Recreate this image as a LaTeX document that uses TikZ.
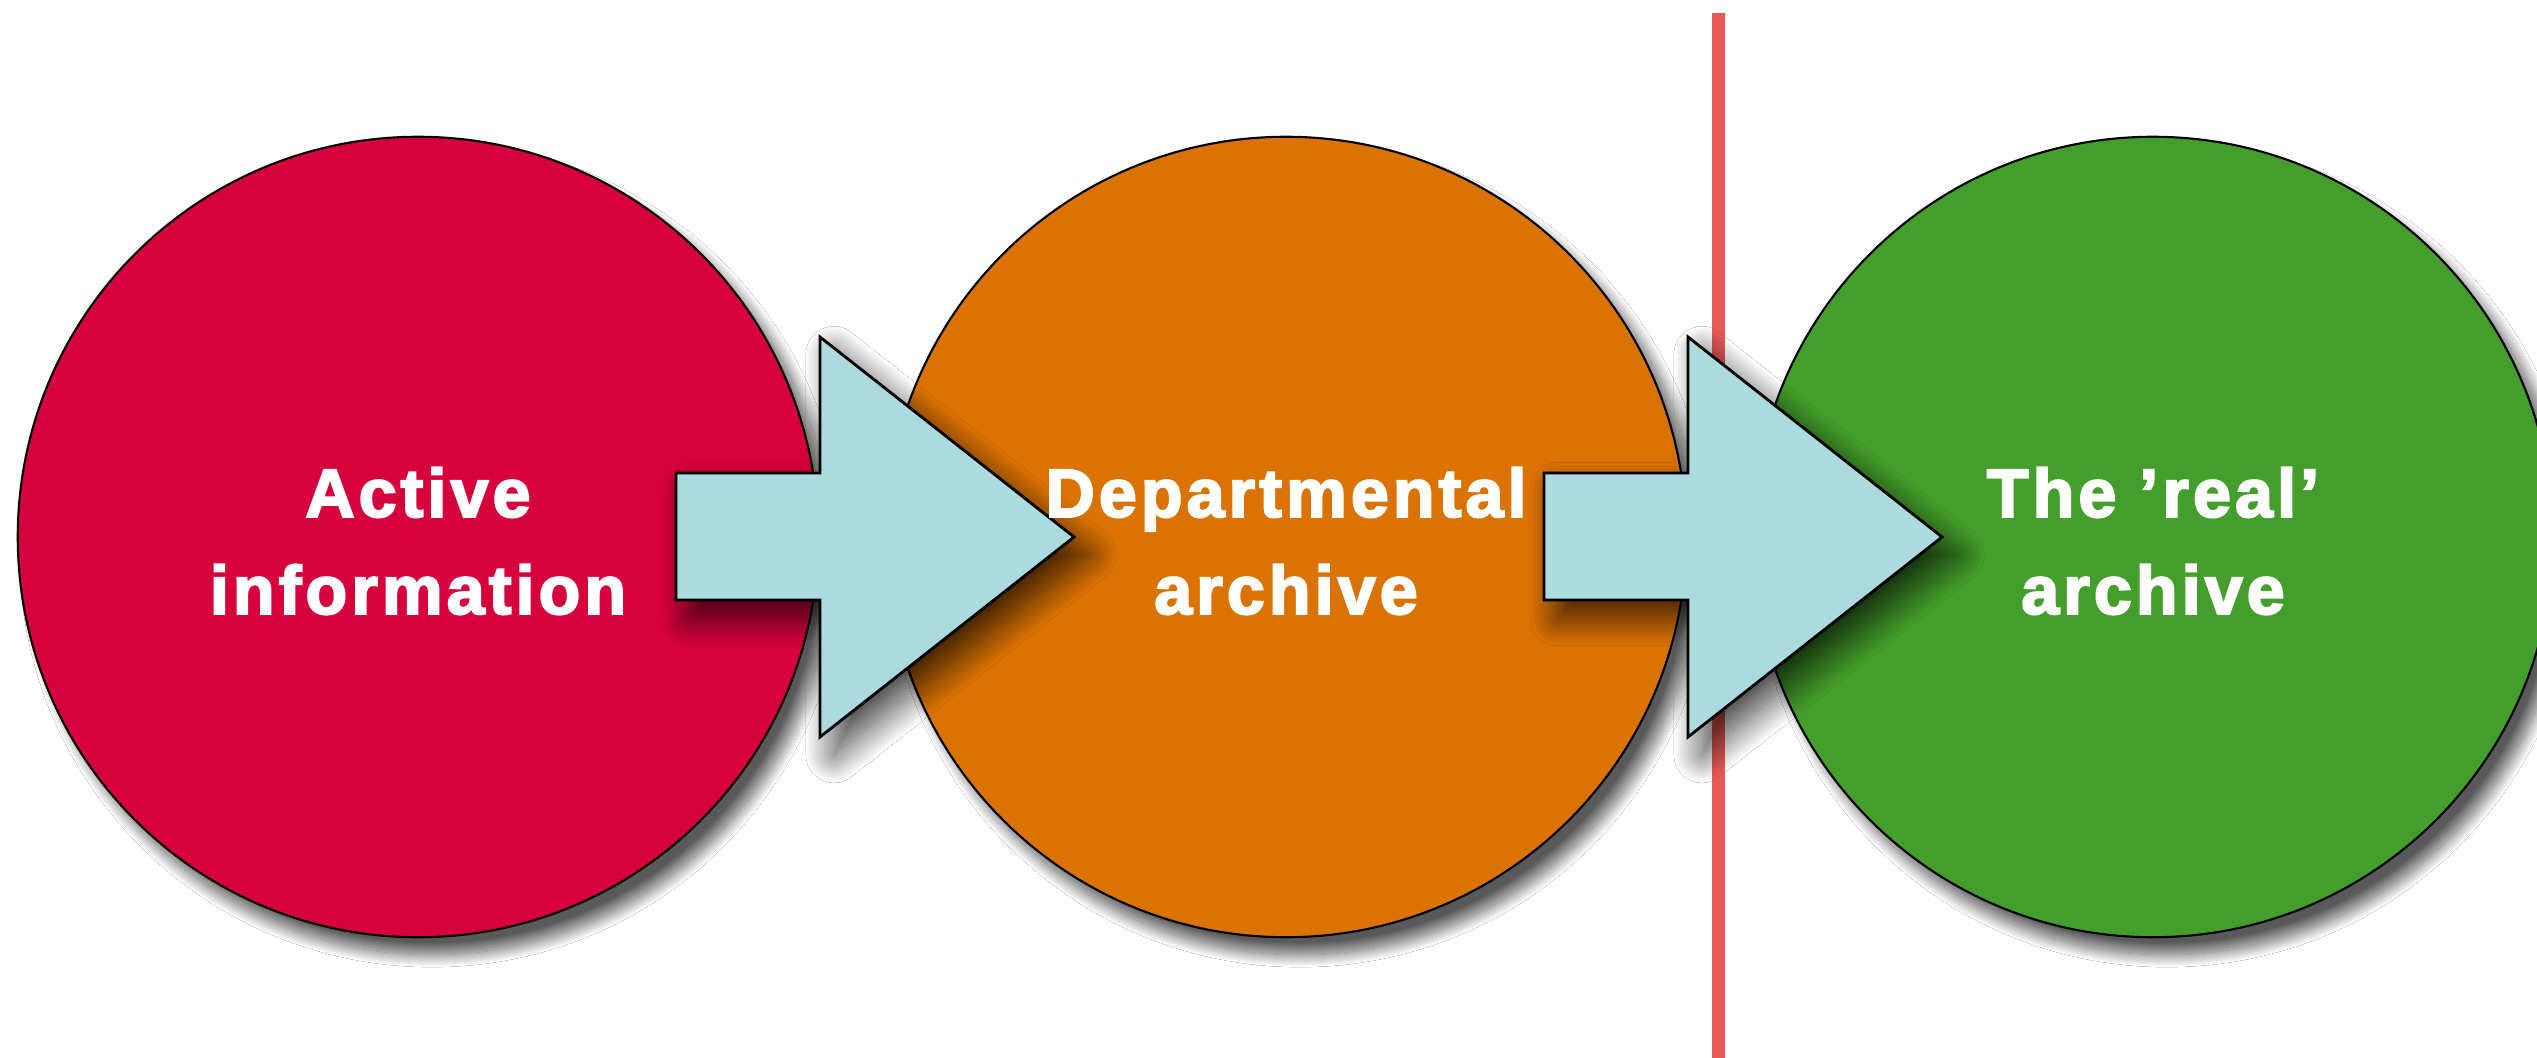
\documentclass[tikz,border=0pt]{standalone}
\usepackage{fontspec}
\newfontfamily\labelfont{Liberation Sans Bold}[FakeBold=3, LetterSpace=6]
\usetikzlibrary{shadows.blur}
\definecolor{cred}{RGB}{213,0,60}
\definecolor{corange}{RGB}{219,115,4}
\definecolor{cgreen}{RGB}{68,158,43}
\definecolor{carrow}{RGB}{172,219,223}
\definecolor{cline}{RGB}{233,90,86}
\begin{document}
\begin{tikzpicture}[x=0.01cm,y=-0.01cm,
  circ/.style={circle, minimum size=8cm, inner sep=0pt, draw=black, line width=0.6pt,
    blur shadow={shadow xshift=4pt, shadow yshift=-5pt, shadow blur radius=3.5pt,
      shadow blur steps=30, shadow opacity=65}},
  arrowbox/.style={fill=carrow, draw=black, line width=0.8pt, line join=miter,
    blur shadow={shadow xshift=4pt, shadow yshift=-5pt, shadow blur radius=8pt,
      shadow blur steps=40, shadow opacity=75}},
  lbl/.style={text=white, align=center, font=\labelfont\fontsize{19.4pt}{27.6pt}\selectfont},
  divider/.style={draw=cline, line width=3.7pt}]
\useasboundingbox (0,0) rectangle (2537,1058);
\fill[white] (0,0) rectangle (2537,1058);
\clip (0,0) rectangle (2537,1058);
\node[circ, fill=cred] (c1) at (418,537) {};
\node[circ, fill=corange] (c2) at (1286,537) {};
\node[circ, fill=cgreen] (c3) at (2153,537) {};
\coordinate (ltop) at (1718,13);
\coordinate (lbot) at (1718,1058);
\draw[divider] (ltop) -- (lbot);
\draw[arrowbox] (676,473) -- (820,473) -- (820,337) -- (1074,537) -- (820,737) -- (820,600) -- (676,600) -- cycle;
\draw[arrowbox] (1544,473) -- (1688,473) -- (1688,337) -- (1942,537) -- (1688,737) -- (1688,600) -- (1544,600) -- cycle;
\node[lbl] (t1) at (418,541) {Active\\information};
\node[lbl] (t2) at (1286,541) {Departmental\\archive};
\node[lbl] (t3) at (2153,541) {The ’real’\\archive};
\end{tikzpicture}
\end{document}
